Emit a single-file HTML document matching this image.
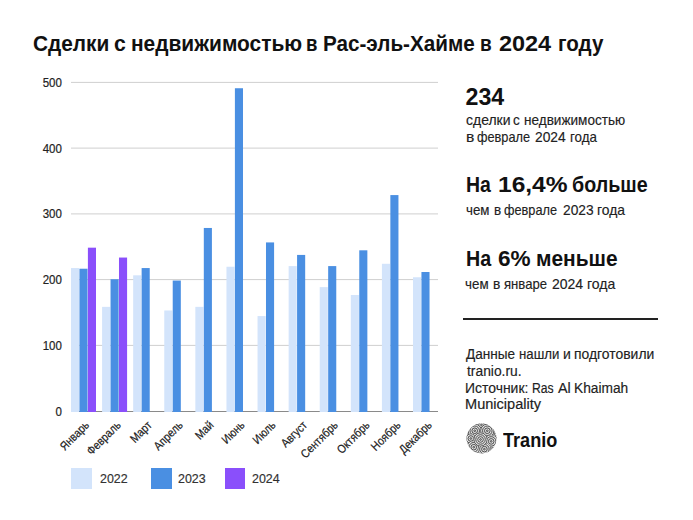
<!DOCTYPE html>
<html><head><meta charset="utf-8"><style>
*{margin:0;padding:0;box-sizing:border-box}
html,body{width:693px;height:520px;background:#fff;overflow:hidden}
body{position:relative;font-family:"Liberation Sans",sans-serif;color:#222}
.a{position:absolute;white-space:nowrap;transform-origin:0 0}
.r{-webkit-text-stroke:0.15px #222}
.yl{right:631px;font-size:12.5px;line-height:12.5px;color:#222;-webkit-text-stroke:0.2px #222;text-align:right;transform:scaleX(0.92);transform-origin:100% 0}
.g{position:absolute;left:71px;width:367px;height:1px;background:#d0d0d0}
.ax{position:absolute;left:71px;width:367px;height:1px;background:#8a8a8a;top:411px}
.b{position:absolute;width:8.1px}
.l{background:#d3e4fb}
.d{background:#4a8fe2}
.p{background:#8a4ffb}
.xl{position:absolute;font-size:12px;line-height:12px;color:#222;-webkit-text-stroke:0.2px #222;white-space:nowrap;transform-origin:100% 50%;transform:rotate(-45deg) scaleX(0.87)}
.sw{position:absolute;top:468px;width:20.6px;height:20.7px}
</style></head><body>
<svg class="a" style="left:0;top:0" width="693" height="520" viewBox="0 0 693 520">
<line x1="71" x2="438" y1="82.4" y2="82.4" stroke="#cfcfcf" stroke-width="1"/><line x1="71" x2="438" y1="148.1" y2="148.1" stroke="#cfcfcf" stroke-width="1"/><line x1="71" x2="438" y1="213.9" y2="213.9" stroke="#cfcfcf" stroke-width="1"/><line x1="71" x2="438" y1="279.6" y2="279.6" stroke="#cfcfcf" stroke-width="1"/><line x1="71" x2="438" y1="345.4" y2="345.4" stroke="#cfcfcf" stroke-width="1"/>
<line x1="71" x2="438" y1="411.5" y2="411.5" stroke="#8a8a8a" stroke-width="1"/>
<rect x="71.00" y="268.06" width="8.1" height="143.94" fill="#d3e4fb"/>
<rect x="79.45" y="268.72" width="8.1" height="143.28" fill="#4a8fe2"/>
<rect x="87.90" y="247.68" width="8.1" height="164.32" fill="#8a4ffb"/>
<rect x="102.09" y="306.86" width="8.1" height="105.14" fill="#d3e4fb"/>
<rect x="110.54" y="279.24" width="8.1" height="132.76" fill="#4a8fe2"/>
<rect x="118.99" y="257.55" width="8.1" height="154.45" fill="#8a4ffb"/>
<rect x="133.18" y="275.30" width="8.1" height="136.70" fill="#d3e4fb"/>
<rect x="141.63" y="268.06" width="8.1" height="143.94" fill="#4a8fe2"/>
<rect x="164.27" y="310.47" width="8.1" height="101.53" fill="#d3e4fb"/>
<rect x="172.72" y="280.56" width="8.1" height="131.44" fill="#4a8fe2"/>
<rect x="195.36" y="306.86" width="8.1" height="105.14" fill="#d3e4fb"/>
<rect x="203.81" y="227.96" width="8.1" height="184.04" fill="#4a8fe2"/>
<rect x="226.45" y="266.75" width="8.1" height="145.25" fill="#d3e4fb"/>
<rect x="234.90" y="88.24" width="8.1" height="323.76" fill="#4a8fe2"/>
<rect x="257.54" y="316.06" width="8.1" height="95.94" fill="#d3e4fb"/>
<rect x="265.99" y="242.42" width="8.1" height="169.58" fill="#4a8fe2"/>
<rect x="288.63" y="266.09" width="8.1" height="145.91" fill="#d3e4fb"/>
<rect x="297.08" y="254.92" width="8.1" height="157.08" fill="#4a8fe2"/>
<rect x="319.72" y="287.13" width="8.1" height="124.87" fill="#d3e4fb"/>
<rect x="328.17" y="266.09" width="8.1" height="145.91" fill="#4a8fe2"/>
<rect x="350.81" y="295.02" width="8.1" height="116.98" fill="#d3e4fb"/>
<rect x="359.26" y="250.31" width="8.1" height="161.69" fill="#4a8fe2"/>
<rect x="381.90" y="263.79" width="8.1" height="148.21" fill="#d3e4fb"/>
<rect x="390.35" y="195.08" width="8.1" height="216.92" fill="#4a8fe2"/>
<rect x="412.99" y="277.27" width="8.1" height="134.73" fill="#d3e4fb"/>
<rect x="421.44" y="272.01" width="8.1" height="139.99" fill="#4a8fe2"/>
</svg>
<div class="a yl" style="top:76.96px">500</div>
<div class="a yl" style="top:142.66px">400</div>
<div class="a yl" style="top:208.46px">300</div>
<div class="a yl" style="top:274.16px">200</div>
<div class="a yl" style="top:339.96px">100</div>
<div class="a yl" style="top:405.76px">0</div>
<div class="xl" style="right:605.70px;top:417.20px">Январь</div>
<div class="xl" style="right:574.61px;top:417.20px">Февраль</div>
<div class="xl" style="right:543.52px;top:417.20px">Март</div>
<div class="xl" style="right:512.43px;top:417.20px">Апрель</div>
<div class="xl" style="right:481.34px;top:417.20px">Май</div>
<div class="xl" style="right:450.25px;top:417.20px">Июнь</div>
<div class="xl" style="right:419.16px;top:417.20px">Июль</div>
<div class="xl" style="right:388.07px;top:417.20px">Август</div>
<div class="xl" style="right:356.98px;top:417.20px">Сентябрь</div>
<div class="xl" style="right:325.89px;top:417.20px">Октябрь</div>
<div class="xl" style="right:294.80px;top:417.20px">Ноябрь</div>
<div class="xl" style="right:263.71px;top:417.20px">Декабрь</div>
<div class="sw l" style="left:71.1px"></div>
<div class="sw d" style="left:151.1px"></div>
<div class="sw p" style="left:224.7px"></div>
<div class="a" style="left:32.55px;top:33.18px;font-size:22px;line-height:22px;font-weight:bold;color:#111;transform:scaleX(0.946);">Сделки</div>
<div class="a" style="left:113.64px;top:33.18px;font-size:22px;line-height:22px;font-weight:bold;color:#111;transform:scaleX(0.964);">с</div>
<div class="a" style="left:130.60px;top:33.18px;font-size:22px;line-height:22px;font-weight:bold;color:#111;transform:scaleX(0.950);">недвижимостью</div>
<div class="a" style="left:305.61px;top:33.18px;font-size:22px;line-height:22px;font-weight:bold;color:#111;transform:scaleX(0.845);">в</div>
<div class="a" style="left:322.86px;top:33.18px;font-size:22px;line-height:22px;font-weight:bold;color:#111;transform:scaleX(0.939);">Рас-эль-Хайме</div>
<div class="a" style="left:480.37px;top:33.18px;font-size:22px;line-height:22px;font-weight:bold;color:#111;transform:scaleX(0.864);">в</div>
<div class="a" style="left:499.24px;top:33.18px;font-size:22px;line-height:22px;font-weight:bold;color:#111;transform:scaleX(1.065);">2024</div>
<div class="a" style="left:558.13px;top:33.18px;font-size:22px;line-height:22px;font-weight:bold;color:#111;transform:scaleX(0.935);">году</div>
<div class="a" style="left:465.50px;top:85.66px;font-size:23.2px;line-height:23.2px;font-weight:bold;color:#111;">234</div>
<div class="a r" style="left:465.84px;top:112.93px;font-size:14.5px;line-height:14.5px;color:#222;transform:scaleX(0.964);">сделки</div>
<div class="a r" style="left:513.07px;top:112.93px;font-size:14.5px;line-height:14.5px;color:#222;transform:scaleX(0.933);">с</div>
<div class="a r" style="left:523.86px;top:112.93px;font-size:14.5px;line-height:14.5px;color:#222;transform:scaleX(0.936);">недвижимостью</div>
<div class="a r" style="left:465.72px;top:130.13px;font-size:14.5px;line-height:14.5px;color:#222;transform:scaleX(1.083);">в</div>
<div class="a r" style="left:476.72px;top:130.13px;font-size:14.5px;line-height:14.5px;color:#222;transform:scaleX(0.880);">феврале</div>
<div class="a r" style="left:535.05px;top:130.13px;font-size:14.5px;line-height:14.5px;color:#222;transform:scaleX(0.952);">2024</div>
<div class="a r" style="left:570.18px;top:130.13px;font-size:14.5px;line-height:14.5px;color:#222;transform:scaleX(0.921);">года</div>
<div class="a" style="left:466.34px;top:173.65px;font-size:22.5px;line-height:22.5px;font-weight:bold;color:#111;transform:scaleX(0.864);">На</div>
<div class="a" style="left:498.11px;top:173.65px;font-size:22.5px;line-height:22.5px;font-weight:bold;color:#111;transform:scaleX(1.090);">16,4%</div>
<div class="a" style="left:571.93px;top:173.65px;font-size:22.5px;line-height:22.5px;font-weight:bold;color:#111;transform:scaleX(0.874);">больше</div>
<div class="a r" style="left:465.88px;top:202.73px;font-size:14.5px;line-height:14.5px;color:#222;transform:scaleX(0.917);">чем</div>
<div class="a r" style="left:493.57px;top:202.73px;font-size:14.5px;line-height:14.5px;color:#222;transform:scaleX(0.933);">в</div>
<div class="a r" style="left:504.42px;top:202.73px;font-size:14.5px;line-height:14.5px;color:#222;transform:scaleX(0.878);">феврале</div>
<div class="a r" style="left:562.65px;top:202.73px;font-size:14.5px;line-height:14.5px;color:#222;transform:scaleX(0.948);">2023</div>
<div class="a r" style="left:597.24px;top:202.73px;font-size:14.5px;line-height:14.5px;color:#222;transform:scaleX(0.957);">года</div>
<div class="a" style="left:466.23px;top:247.75px;font-size:22.5px;line-height:22.5px;font-weight:bold;color:#111;transform:scaleX(0.875);">На</div>
<div class="a" style="left:498.00px;top:247.75px;font-size:22.5px;line-height:22.5px;font-weight:bold;color:#111;transform:scaleX(1.003);">6%</div>
<div class="a" style="left:535.84px;top:247.75px;font-size:22.5px;line-height:22.5px;font-weight:bold;color:#111;transform:scaleX(0.929);">меньше</div>
<div class="a r" style="left:464.98px;top:277.03px;font-size:14.5px;line-height:14.5px;color:#222;transform:scaleX(0.921);">чем</div>
<div class="a r" style="left:493.05px;top:277.03px;font-size:14.5px;line-height:14.5px;color:#222;transform:scaleX(0.950);">в</div>
<div class="a r" style="left:504.40px;top:277.03px;font-size:14.5px;line-height:14.5px;color:#222;transform:scaleX(0.904);">январе</div>
<div class="a r" style="left:552.04px;top:277.03px;font-size:14.5px;line-height:14.5px;color:#222;transform:scaleX(0.965);">2024</div>
<div class="a r" style="left:587.13px;top:277.03px;font-size:14.5px;line-height:14.5px;color:#222;transform:scaleX(0.968);">года</div>
<div class="a r" style="left:465.80px;top:347.62px;font-size:13.8px;line-height:13.8px;color:#222;transform:scaleX(0.984);">Данные</div>
<div class="a r" style="left:518.84px;top:347.62px;font-size:13.8px;line-height:13.8px;color:#222;transform:scaleX(0.958);">нашли</div>
<div class="a r" style="left:562.88px;top:347.62px;font-size:13.8px;line-height:13.8px;color:#222;transform:scaleX(1.017);">и</div>
<div class="a r" style="left:574.39px;top:347.62px;font-size:13.8px;line-height:13.8px;color:#222;transform:scaleX(1.008);">подготовили</div>
<div class="a r" style="left:466.50px;top:364.72px;font-size:13.8px;line-height:13.8px;color:#222;transform:scaleX(1.002);">tranio.ru.</div>
<div class="a r" style="left:464.79px;top:381.52px;font-size:13.8px;line-height:13.8px;color:#222;transform:scaleX(1.010);">Источник:</div>
<div class="a r" style="left:531.92px;top:381.52px;font-size:13.8px;line-height:13.8px;color:#222;transform:scaleX(0.883);">Ras</div>
<div class="a r" style="left:557.50px;top:381.52px;font-size:13.8px;line-height:13.8px;color:#222;transform:scaleX(1.042);">Al</div>
<div class="a r" style="left:574.20px;top:381.52px;font-size:13.8px;line-height:13.8px;color:#222;transform:scaleX(0.996);">Khaimah</div>
<div class="a r" style="left:464.94px;top:398.02px;font-size:13.8px;line-height:13.8px;color:#222;transform:scaleX(1.056);">Municipality</div>
<div class="a" style="left:502.50px;top:429.77px;font-size:20px;line-height:20px;font-weight:bold;color:#111;transform:scaleX(0.905);">Tranio</div>
<div class="a r" style="left:100.00px;top:471.81px;font-size:13.1px;line-height:13.1px;color:#333;transform:scaleX(0.950);">2022</div>
<div class="a r" style="left:178.00px;top:471.81px;font-size:13.1px;line-height:13.1px;color:#333;transform:scaleX(0.950);">2023</div>
<div class="a r" style="left:251.80px;top:471.81px;font-size:13.1px;line-height:13.1px;color:#333;transform:scaleX(0.950);">2024</div>
<div class="a" style="left:463px;top:318px;width:195px;height:2px;background:#222"></div>
<svg class="a" style="left:466.3px;top:422.7px" width="31" height="31" viewBox="0 0 32 32"><defs><clipPath id="cc"><circle cx="16" cy="16" r="15.4"/></clipPath><clipPath id="c0"><circle cx="16" cy="2" r="5"/></clipPath><clipPath id="c1"><circle cx="29" cy="11" r="5"/></clipPath><clipPath id="c2"><circle cx="9" cy="8" r="7.5"/></clipPath><clipPath id="c3"><circle cx="22" cy="8" r="7.5"/></clipPath><clipPath id="c4"><circle cx="5" cy="16" r="5.5"/></clipPath><clipPath id="c5"><circle cx="26" cy="19" r="7"/></clipPath><clipPath id="c6"><circle cx="8" cy="25" r="7"/></clipPath><clipPath id="c7"><circle cx="19" cy="27" r="6.5"/></clipPath><clipPath id="c8"><circle cx="15" cy="17" r="7.5"/></clipPath></defs><g clip-path="url(#cc)"><circle cx="16" cy="16" r="16" fill="#9a9a9a"/><g clip-path="url(#c0)"><circle cx="16" cy="2" r="5" fill="#e4e4e4"/><circle cx="16" cy="2" r="0.9" fill="none" stroke="#3c3c3c" stroke-width="0.95"/><circle cx="16" cy="2" r="2.9" fill="none" stroke="#3c3c3c" stroke-width="0.95"/><circle cx="16" cy="2" r="4.9" fill="none" stroke="#3c3c3c" stroke-width="0.95"/></g><g clip-path="url(#c1)"><circle cx="29" cy="11" r="5" fill="#e4e4e4"/><circle cx="29" cy="11" r="0.9" fill="none" stroke="#3c3c3c" stroke-width="0.95"/><circle cx="29" cy="11" r="2.9" fill="none" stroke="#3c3c3c" stroke-width="0.95"/><circle cx="29" cy="11" r="4.9" fill="none" stroke="#3c3c3c" stroke-width="0.95"/></g><g clip-path="url(#c2)"><circle cx="9" cy="8" r="7.5" fill="#e4e4e4"/><circle cx="9" cy="8" r="0.9" fill="none" stroke="#3c3c3c" stroke-width="0.95"/><circle cx="9" cy="8" r="2.9" fill="none" stroke="#3c3c3c" stroke-width="0.95"/><circle cx="9" cy="8" r="4.9" fill="none" stroke="#3c3c3c" stroke-width="0.95"/><circle cx="9" cy="8" r="6.9" fill="none" stroke="#3c3c3c" stroke-width="0.95"/></g><g clip-path="url(#c3)"><circle cx="22" cy="8" r="7.5" fill="#e4e4e4"/><circle cx="22" cy="8" r="0.9" fill="none" stroke="#3c3c3c" stroke-width="0.95"/><circle cx="22" cy="8" r="2.9" fill="none" stroke="#3c3c3c" stroke-width="0.95"/><circle cx="22" cy="8" r="4.9" fill="none" stroke="#3c3c3c" stroke-width="0.95"/><circle cx="22" cy="8" r="6.9" fill="none" stroke="#3c3c3c" stroke-width="0.95"/></g><g clip-path="url(#c4)"><circle cx="5" cy="16" r="5.5" fill="#e4e4e4"/><circle cx="5" cy="16" r="0.9" fill="none" stroke="#3c3c3c" stroke-width="0.95"/><circle cx="5" cy="16" r="2.9" fill="none" stroke="#3c3c3c" stroke-width="0.95"/><circle cx="5" cy="16" r="4.9" fill="none" stroke="#3c3c3c" stroke-width="0.95"/></g><g clip-path="url(#c5)"><circle cx="26" cy="19" r="7" fill="#e4e4e4"/><circle cx="26" cy="19" r="0.9" fill="none" stroke="#3c3c3c" stroke-width="0.95"/><circle cx="26" cy="19" r="2.9" fill="none" stroke="#3c3c3c" stroke-width="0.95"/><circle cx="26" cy="19" r="4.9" fill="none" stroke="#3c3c3c" stroke-width="0.95"/><circle cx="26" cy="19" r="6.9" fill="none" stroke="#3c3c3c" stroke-width="0.95"/></g><g clip-path="url(#c6)"><circle cx="8" cy="25" r="7" fill="#e4e4e4"/><circle cx="8" cy="25" r="0.9" fill="none" stroke="#3c3c3c" stroke-width="0.95"/><circle cx="8" cy="25" r="2.9" fill="none" stroke="#3c3c3c" stroke-width="0.95"/><circle cx="8" cy="25" r="4.9" fill="none" stroke="#3c3c3c" stroke-width="0.95"/><circle cx="8" cy="25" r="6.9" fill="none" stroke="#3c3c3c" stroke-width="0.95"/></g><g clip-path="url(#c7)"><circle cx="19" cy="27" r="6.5" fill="#e4e4e4"/><circle cx="19" cy="27" r="0.9" fill="none" stroke="#3c3c3c" stroke-width="0.95"/><circle cx="19" cy="27" r="2.9" fill="none" stroke="#3c3c3c" stroke-width="0.95"/><circle cx="19" cy="27" r="4.9" fill="none" stroke="#3c3c3c" stroke-width="0.95"/><circle cx="19" cy="27" r="6.9" fill="none" stroke="#3c3c3c" stroke-width="0.95"/></g><g clip-path="url(#c8)"><circle cx="15" cy="17" r="7.5" fill="#e4e4e4"/><circle cx="15" cy="17" r="0.9" fill="none" stroke="#3c3c3c" stroke-width="0.95"/><circle cx="15" cy="17" r="2.9" fill="none" stroke="#3c3c3c" stroke-width="0.95"/><circle cx="15" cy="17" r="4.9" fill="none" stroke="#3c3c3c" stroke-width="0.95"/><circle cx="15" cy="17" r="6.9" fill="none" stroke="#3c3c3c" stroke-width="0.95"/></g></g></svg>
</body></html>
